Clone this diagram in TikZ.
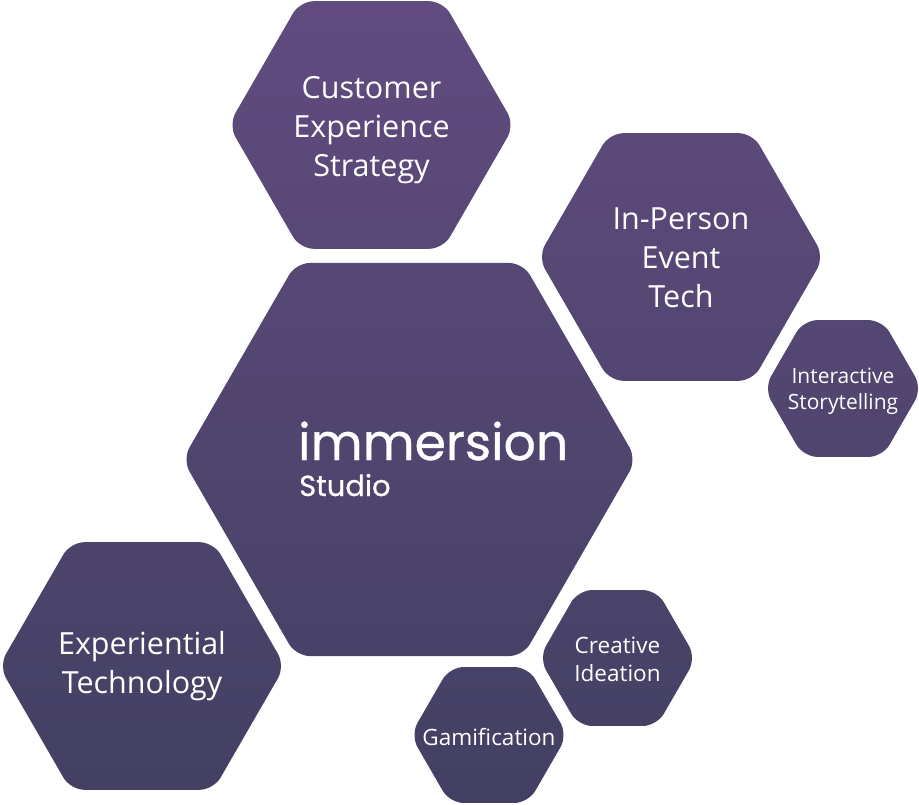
\documentclass[tikz,border=0pt]{standalone}
\usepackage{fontspec}
\setmainfont{Open Sans}
\newfontfamily\logofont{Poppins}[UprightFeatures={FakeBold=0.7}]
\usetikzlibrary{%
	shapes.geometric%
}
\definecolor{gtop}{RGB}{97,75,127}
\definecolor{gbot}{RGB}{66,64,98}
\tikzset{
	hexa/.style={regular polygon, regular polygon sides=6, inner sep=0pt, draw=none, rounded corners=14pt},
	biglabel/.style={text=white, align=center, font=\fontsize{30.5}{39}\selectfont},
	smalllabel/.style={text=white, align=center, font=\fontsize{22.5}{28}\selectfont}
}

\begin{document}
\begin{tikzpicture}[x=1pt,y=-1pt]
	% Canvas
	\fill[white] (0,0) rectangle (919,804);
	\useasboundingbox (0,0) rectangle (919,804);
	
	% Hexagons
	\foreach \name/\cx/\cy/\rad in {studio/409.5/459.5/227, cxs/371.5/125/143, event/681/257/143, exptech/142/666/143, story/843/388.5/79, ideation/617.5/658/78.5, gamif/489/735/78.5}{
		\pgfmathsetmacro\dia{2*\rad}
		\pgfmathsetmacro\ptop{(\cy-0.866*\rad)/8.04}
		\pgfmathsetmacro\pbot{(\cy+0.866*\rad)/8.04}
		\node[hexa, minimum size=\dia pt, top color=gbot!\ptop!gtop, bottom color=gbot!\pbot!gtop] (\name) at (\cx,\cy) {};
	}
	
	% Labels
	\node[biglabel, yshift=-5pt] (cxslbl) at (cxs) {Customer\\Experience\\Strategy};
	\node[biglabel, yshift=-1pt] (eventlbl) at (event) {In-Person\\Event\\Tech};
	\node[biglabel] (exptechlbl) at (exptech) {Experiential\\Technology};
	\node[smalllabel, yshift=-3pt, font=\fontsize{21}{26}\selectfont] (storylbl) at (story) {Interactive\\Storytelling};
	\node[smalllabel, yshift=-1.5pt] (ideationlbl) at (ideation) {Creative\\Ideation};
	\node[smalllabel, yshift=-2pt] (gamiflbl) at (gamif) {Gamification};
	
	% Logo
	\node[anchor=base west, inner sep=0pt, text=white, font=\logofont\fontsize{50.5}{50.5}\selectfont] (logo) at (298,460) {immersion};
	\node[anchor=base west, inner sep=0pt, text=white, font=\logofont\fontsize{29}{29}\selectfont] (logosub) at (299,496) {Studio};
\end{tikzpicture}
\end{document}
